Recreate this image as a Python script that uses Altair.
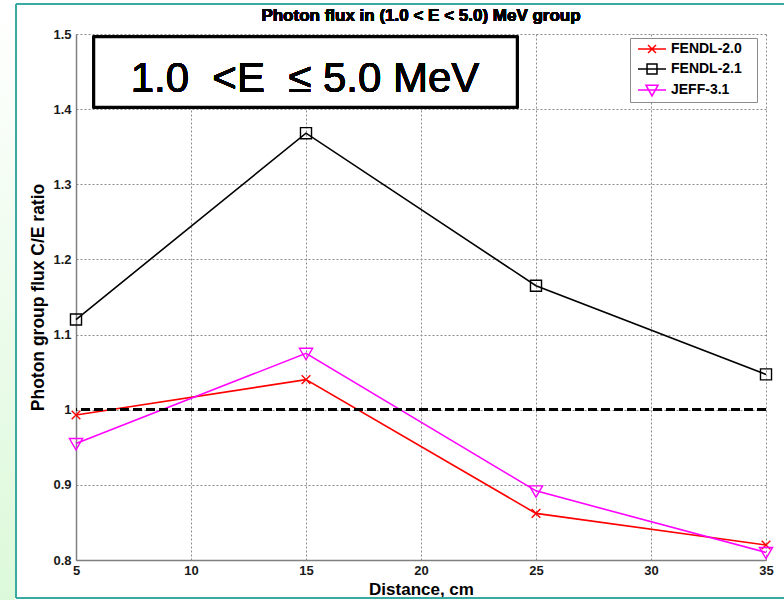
import altair as alt
import pandas as pd

# Measured photon group flux C/E ratios, 1.0 < E <= 5.0 MeV
distance_cm = [5, 15, 25, 35]
fendl_20 = [0.993, 1.040, 0.862, 0.820]
fendl_21 = [1.120, 1.368, 1.165, 1.047]
jeff_31 = [0.955, 1.075, 0.892, 0.810]
libraries = ["FENDL-2.0", "FENDL-2.1", "JEFF-3.1"]

x_ticks = [5, 10, 15, 20, 25, 30, 35]
y_ticks = [0.8, 0.9, 1.0, 1.1, 1.2, 1.3, 1.4, 1.5]
reference_ratio = 1.0

colors = ["#ff0000", "#000000", "#ff00ff"]
# marker outlines: diagonal cross, open square, open downward triangle
marker_paths = [
    "M-0.36,-0.36L0.36,0.36M-0.36,0.36L0.36,-0.36",
    "M-0.46,-0.46H0.46V0.46H-0.46Z",
    "M-0.55,-0.42H0.55L0,0.52Z",
]
# legend keys: a line segment through the marker
legend_marks = [
    "M-0.57,-0.57L0.57,0.57M-0.57,0.57L0.57,-0.57",
    "M-0.71,-0.71H0.71V0.71H-0.71Z",
    "M-0.86,-0.68H0.86L0,0.84Z",
]
legend_paths = ["M-2,0H2" + p for p in legend_marks]

rows = []
for lib, vals in zip(libraries, [fendl_20, fendl_21, jeff_31]):
    for d, v in zip(distance_cm, vals):
        rows.append({"Distance": d, "Ratio": v, "Library": lib})
df = pd.DataFrame(rows)

FONT = "Liberation Sans"
W, H = 690, 526

x_enc = alt.X(
    "Distance:Q",
    scale=alt.Scale(domain=[5, 35], nice=False, zero=False),
    axis=alt.Axis(
        values=x_ticks, title="Distance, cm", labelFlush=False, labelOverlap=False,
        grid=True, titleX=345, titleY=34, titleBaseline="alphabetic", titleAnchor="middle",
        titleFontSize=17, labelPadding=4,
    ),
)
y_enc = alt.Y(
    "Ratio:Q",
    scale=alt.Scale(domain=[0.8, 1.5], nice=False, zero=False),
    axis=alt.Axis(
        values=y_ticks, format="~g", title="Photon group flux C/E ratio",
        labelFlush=False, labelOverlap=False, labelPadding=5, grid=True,
        titleX=-33, titleY=263, titleBaseline="alphabetic", titleAnchor="middle",
        titleFontSize=17.5,
    ),
)

def color_enc(legend=None):
    return alt.Color("Library:N", scale=alt.Scale(domain=libraries, range=colors), legend=legend)

base = alt.Chart(df)

lines = base.mark_line(strokeWidth=1.6).encode(x=x_enc, y=y_enc, color=color_enc())

ref_line = base.mark_rule(
    color="black", strokeWidth=2.5, strokeDash=[9, 4]
).encode(y=alt.datum(reference_ratio))

markers = base.mark_point(filled=False, strokeWidth=1.4, size=576, opacity=1).encode(
    x=x_enc, y=y_enc, color=color_enc(),
    shape=alt.Shape("Library:N", scale=alt.Scale(domain=libraries, range=marker_paths), legend=None),
)

# a transparent spacer title on the right widens the key box
key_legend = alt.Legend(
    title="x", titleOrient="right", titleOpacity=0, titleFontSize=6, titlePadding=8,
    orient="none", legendX=554, legendY=4, direction="vertical",
    padding=3, strokeColor="#8c8c8c", fillColor="white",
    symbolSize=196, symbolStrokeWidth=1.5, symbolOffset=11,
    labelFont=FONT, labelFontWeight="bold", labelFontSize=14, labelColor="black",
    labelOffset=11, rowPadding=5,
)
key = base.transform_filter("false").mark_point(filled=False, strokeWidth=1.5, opacity=1).encode(
    x=x_enc, y=y_enc, color=color_enc(key_legend),
    shape=alt.Shape("Library:N", scale=alt.Scale(domain=libraries, range=legend_paths), legend=key_legend),
)

# chart heading above the plot area
heading = base.mark_text(
    text="Photon flux in (1.0 < E < 5.0) MeV group", font=FONT, fontSize=17,
    fontWeight="bold", color="black", align="center", baseline="alphabetic",
).encode(x=alt.value(345), y=alt.value(-13))

# energy-range label box in the upper left of the plot
box = base.mark_rect(fill="white", stroke="black", strokeWidth=2.5).encode(
    x=alt.value(18), x2=alt.value(441), y=alt.value(3), y2=alt.value(73)
)
box_text = base.mark_text(
    text="1.0\u00a0\u00a0<E\u00a0\u00a0\u2264\u00a05.0\u00a0MeV", fontSize=42, font=FONT,
    fontWeight="normal", align="center", baseline="alphabetic", color="black",
).encode(x=alt.value(229), y=alt.value(58))

# slide frame: pale green strip with a teal border line
strip = base.mark_rect(
    color=alt.LinearGradient(
        gradient="linear",
        stops=[alt.GradientStop(color="#ffffff", offset=0), alt.GradientStop(color="#dcf9da", offset=1)],
        x1=0, x2=0, y1=0, y2=1,
    )
).encode(x=alt.value(-76), x2=alt.value(-61), y=alt.value(-34), y2=alt.value(566))
frame_left = base.mark_rule(color="#3aa9a2", strokeWidth=2).encode(
    x=alt.value(-60), y=alt.value(-30), y2=alt.value(564))
frame_top = base.mark_rule(color="#3aa9a2", strokeWidth=2).encode(
    x=alt.value(-60), x2=alt.value(710), y=alt.value(-30))
frame_bottom = base.mark_rule(color="#3aa9a2", strokeWidth=2).encode(
    x=alt.value(-60), x2=alt.value(710), y=alt.value(564))

chart = (
    alt.layer(lines, ref_line, markers, box, box_text, heading, key,
              strip, frame_left, frame_top, frame_bottom)
    .resolve_scale(color="independent", shape="independent")
    .properties(
        width=W, height=H,
        autosize=alt.AutoSizeParams(type="none"),
        padding={"left": 76, "top": 34, "right": 18, "bottom": 40},
        background="white",
    )
    .configure_view(stroke=None)
    .configure_axis(
        labelFont=FONT, labelFontWeight="bold", labelFontSize=13, labelColor="#1a1a1a",
        titleFont=FONT, titleFontWeight="bold", titleFontSize=16, titleColor="black",
        domainColor="#808080", domainWidth=1.5, ticks=False,
        gridColor="#8a8a8a", gridDash=[2, 2], gridWidth=1,
    )
)

chart.save("out.html", embed_options={"renderer": "svg", "actions": False})
